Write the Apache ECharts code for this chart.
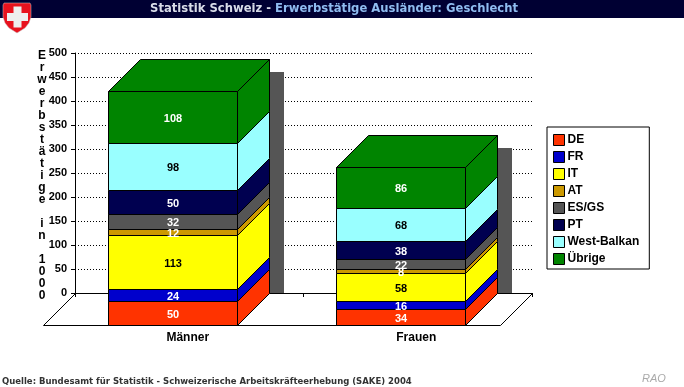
<!DOCTYPE html>
<html>
<head>
<meta charset="utf-8">
<style>
  html, body { margin: 0; padding: 0; background: #fff; }
  #main { width: 684px; height: 387px; }
</style>
<script src="https://cdn.jsdelivr.net/npm/echarts@6/dist/echarts.min.js"></script>
</head>
<body>
<div id="main"></div>
<script>
var categories = ['Männer', 'Frauen'];
var nations = ['DE', 'FR', 'IT', 'AT', 'ES/GS', 'PT', 'West-Balkan', 'Übrige'];
var de = [50, 34];
var fr = [24, 16];
var it = [113, 58];
var at = [12, 8];
var esgs = [32, 22];
var pt = [50, 38];
var westBalkan = [98, 68];
var uebrige = [108, 86];
var shadowTops = [460, 302];
var yTitle = 'E\nr\nw\ne\nr\nb\ns\nt\nä\nt\ni\ng\ne\n \ni\nn\n \n1\n0\n0\n0';

var stackValues = [de, fr, it, at, esgs, pt, westBalkan, uebrige];
var colors = ['#ff3300', '#0000cc', '#ffff00', '#cc9900', '#555555', '#000050', '#99ffff', '#008400'];
var labelColors = ['#fff', '#fff', '#000', '#fff', '#fff', '#fff', '#000', '#fff'];

var DEPTH = 32;          // Tiefe der 3D-Saeulen in px
var FRONT_LEFT = 81.5;   // Vorderseite relativ zur Kategoriemitte
var FRONT_WIDTH = 129;
var FONT = '"Liberation Sans", Arial, sans-serif';

function px(v) {
    return Math.round(v) + 0.5;
}

function face(points, color) {
    return {
        type: 'polygon',
        shape: { points: points },
        style: { fill: color, stroke: '#000', lineWidth: 1 }
    };
}

// ein Segment der gestapelten Saeule: Front, rechte Seite, oben nur beim letzten
function renderSegment(seriesIndex, params, api) {
    var cat = api.value(0);
    var base = 0;
    for (var i = 0; i < seriesIndex; i++) {
        base += stackValues[i][cat];
    }
    var value = api.value(1);
    var low = api.coord([cat, base]);
    var high = api.coord([cat, base + value]);
    var x0 = px(low[0] - FRONT_LEFT);
    var x1 = x0 + FRONT_WIDTH;
    var y0 = px(low[1] + DEPTH);
    var y1 = px(high[1] + DEPTH);
    var color = colors[seriesIndex];
    var children = [
        face([[x0, y0], [x1, y0], [x1, y1], [x0, y1]], color),
        face([[x1, y0], [x1 + DEPTH, y0 - DEPTH], [x1 + DEPTH, y1 - DEPTH], [x1, y1]], color)
    ];
    if (seriesIndex === stackValues.length - 1) {
        children.push(face([[x0, y1], [x1, y1], [x1 + DEPTH, y1 - DEPTH], [x0 + DEPTH, y1 - DEPTH]], color));
    }
    children.push({
        type: 'text',
        z2: 10,
        style: {
            x: (x0 + x1) / 2,
            y: (y0 + y1) / 2 + 1,
            text: String(value),
            fill: labelColors[seriesIndex],
            font: 'bold 11px ' + FONT,
            align: 'center',
            verticalAlign: 'middle'
        }
    });
    return { type: 'group', children: children };
}

function renderShadow(params, api) {
    var cat = api.value(0);
    var low = api.coord([cat, 0]);
    var high = api.coord([cat, api.value(1)]);
    return {
        type: 'rect',
        shape: {
            x: Math.round(low[0] + 80.5),
            y: Math.round(high[1]),
            width: 14,
            height: Math.round(low[1] - high[1])
        },
        style: { fill: '#555555' }
    };
}

// Boden unter den Saeulen
function renderFloor(params, api) {
    var c = params.coordSys;
    var y = px(c.y + c.height);
    var xl = px(c.x);
    var xr = px(c.x + c.width);
    return {
        type: 'polygon',
        shape: { points: [[xl, y], [xl - DEPTH, y + DEPTH], [xr - DEPTH, y + DEPTH], [xr, y]] },
        style: { fill: 'none', stroke: '#000', lineWidth: 1 }
    };
}

var series = [
    {
        name: 'floor',
        type: 'custom',
        renderItem: renderFloor,
        data: [[0, 0]],
        silent: true,
        clip: false
    },
    {
        name: 'shadow',
        type: 'custom',
        renderItem: renderShadow,
        data: shadowTops.map(function (v, i) { return [i, v]; }),
        encode: { x: 0, y: 1 },
        silent: true,
        clip: false
    }
];

nations.forEach(function (name, idx) {
    series.push({
        name: name,
        type: 'custom',
        renderItem: function (params, api) {
            return renderSegment(idx, params, api);
        },
        itemStyle: { color: colors[idx] },
        data: stackValues[idx].map(function (v, i) { return [i, v]; }),
        encode: { x: 0, y: 1 },
        clip: false
    });
});

var chart = echarts.init(document.getElementById('main'), null, { renderer: 'canvas' });

var option = {
    backgroundColor: '#fff',
    animation: false,
    textStyle: { fontFamily: FONT },
    title: [
        {
            text: '{a|Statistik Schweiz - }{b|Erwerbstätige Ausländer: Geschlecht}',
            left: 334,
            top: 3,
            textAlign: 'center',
            padding: 0,
            textStyle: {
                rich: {
                    a: { color: '#d8dce8', fontSize: 11.6, fontWeight: 'bold', fontFamily: 'DejaVu Sans' },
                    b: { color: '#8fbcf0', fontSize: 11.6, fontWeight: 'bold', fontFamily: 'DejaVu Sans' }
                }
            }
        },
        {
            text: yTitle,
            left: 42,
            top: 50,
            textAlign: 'center',
            padding: 0,
            textStyle: { color: '#000', fontSize: 12, fontWeight: 'bold', lineHeight: 12, fontFamily: FONT }
        },
        {
            text: 'Quelle: Bundesamt für Statistik - Schweizerische Arbeitskräfteerhebung (SAKE) 2004',
            left: 2,
            top: 377,
            padding: 0,
            textStyle: { color: '#333', fontSize: 8.5, fontWeight: 'bold', fontFamily: 'DejaVu Sans' }
        },
        {
            text: 'RAO',
            left: 642,
            top: 373,
            padding: 0,
            textStyle: { color: '#aaa', fontSize: 11, fontWeight: 'normal', fontStyle: 'italic', fontFamily: FONT }
        }
    ],
    legend: {
        data: nations,
        orient: 'vertical',
        left: 547,
        top: 127,
        padding: [7, 10, 4, 6],
        itemWidth: 11,
        itemHeight: 11,
        itemGap: 5,
        icon: 'rect',
        backgroundColor: '#fff',
        borderColor: '#000',
        borderWidth: 1,
        borderRadius: 0,
        selectedMode: false,
        itemStyle: { borderColor: '#000', borderWidth: 1 },
        textStyle: { color: '#000', fontSize: 12, fontWeight: 'bold', fontFamily: FONT, padding: [0, 0, 0, -2] }
    },
    grid: { left: 75, right: 152, top: 53, bottom: 94 },
    xAxis: {
        type: 'category',
        data: categories,
        axisLine: { lineStyle: { color: '#000', width: 1 } },
        axisTick: { show: true, alignWithLabel: false, length: 4, lineStyle: { color: '#000' } },
        axisLabel: { color: '#000', fontSize: 12, fontWeight: 'bold', margin: 39, padding: [0, 3, 0, 0], fontFamily: FONT }
    },
    yAxis: {
        type: 'value',
        min: 0,
        max: 500,
        interval: 50,
        axisLine: { show: true, lineStyle: { color: '#000', width: 1 } },
        axisTick: { show: true, length: 4, lineStyle: { color: '#000' } },
        axisLabel: { color: '#000', fontSize: 11, fontWeight: 'bold', margin: 8, fontFamily: FONT },
        splitLine: { show: true, lineStyle: { color: '#000', type: [1, 2], width: 1 } }
    },
    graphic: [
        { type: 'rect', z: -1, shape: { x: 0, y: 0, width: 684, height: 18 }, style: { fill: '#000033' } },
        {
            // Schweizer Wappen
            type: 'group',
            z: 100,
            children: [
                {
                    type: 'polygon',
                    shape: {
                        points: [[4, 3], [30, 3], [31, 5], [31, 17], [29, 23], [25, 28], [17, 33], [9, 28], [5, 23], [3, 17], [3, 5]]
                    },
                    style: { fill: '#e8121e', stroke: '#c8c8c8', lineWidth: 0.5 }
                },
                { type: 'rect', shape: { x: 13.5, y: 6.5, width: 8, height: 21 }, style: { fill: '#eeeeee' } },
                { type: 'rect', shape: { x: 7, y: 13, width: 21, height: 8 }, style: { fill: '#eeeeee' } }
            ]
        }
    ],
    series: series
};

option && chart.setOption(option);

window.addEventListener('resize', chart.resize);
</script>
</body>
</html>
